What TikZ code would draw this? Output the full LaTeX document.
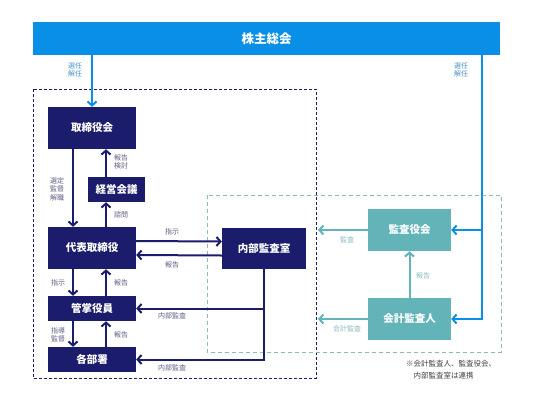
\documentclass[tikz,border=0pt]{standalone}
\usepackage{fontspec}
\setmainfont{Noto Sans CJK JP}
\usetikzlibrary{calc}
\usetikzlibrary{positioning}
\usetikzlibrary{arrows.meta}

\definecolor{navy}{HTML}{1C1C6C}
\definecolor{tealbox}{HTML}{62B4B8}
\definecolor{barblue}{HTML}{0A8FE6}
\definecolor{tealline}{HTML}{8FB8B8}
\definecolor{navylbl}{HTML}{5E5E84}
\definecolor{teallbl}{HTML}{86BBBD}
\definecolor{bluelbl}{HTML}{4A90C8}

\begin{document}
\begin{tikzpicture}[x=1pt, y=-1pt,
    navybox/.style={fill=navy, text=white, font=\fontsize{10.5}{12}\selectfont\bfseries, inner sep=0pt},
    tealnode/.style={fill=tealbox, text=white, font=\fontsize{10.5}{12}\selectfont\bfseries, inner sep=0pt},
    lbl/.style={text=navylbl, font=\fontsize{7}{8.5}\selectfont, align=center, inner sep=0pt},
    tlbl/.style={text=teallbl, font=\fontsize{7}{8.5}\selectfont, align=center, inner sep=0pt},
    blbl/.style={text=bluelbl, font=\fontsize{7}{8.5}\selectfont, align=center, inner sep=0pt},
    arr/.style={-{Straight Barb[length=4pt,width=9pt]}, line width=2pt, navy},
    tarr/.style={-{Straight Barb[length=4pt,width=9pt]}, line width=2pt, tealbox},
    barr/.style={-{Straight Barb[length=4pt,width=9pt]}, line width=2pt, barblue}]
            \useasboundingbox (0,0) rectangle (533,400);

            % Frames
            \draw[dashed, line width=0.9pt, navy, dash pattern=on 3pt off 2pt] (33,89) rectangle (316,378);
            \draw[dashed, line width=0.9pt, tealline, dash pattern=on 4pt off 3pt] (207,195) rectangle (501,352);

            % Shareholders
            \node[fill=barblue, text=white, font=\fontsize{12.5}{14}\selectfont\bfseries, minimum width=467pt, minimum height=33pt, inner sep=0pt] (bar) at (266.5,38.5) {株主総会};

            % Company side
            \node[navybox, minimum width=88pt, minimum height=42pt] (board) at (92,128) {取締役会};
            \node[navybox, minimum width=57pt, minimum height=25pt] (council) at (116.5,189.5) {経営会議};
            \node[navybox, minimum width=88pt, minimum height=42pt] (ceo) at (92,248) {代表取締役};
            \node[navybox, minimum width=88pt, minimum height=25pt] (officer) at (92,308.5) {管掌役員};
            \node[navybox, minimum width=88pt, minimum height=25pt] (depts) at (92,359.5) {各部署};
            \node[navybox, minimum width=84pt, minimum height=41pt] (audit) at (264,248.5) {内部監査室};

            % Auditors
            \node[tealnode, minimum width=83pt, minimum height=42pt] (kansa) at (409.5,230) {監査役会};
            \node[tealnode, minimum width=83pt, minimum height=42pt] (kaikei) at (409.5,319) {会計監査人};

            % Free ends
            \coordinate (rtop) at (482,55);
            \coordinate (kansaend) at (318,230);
            \coordinate (kaikeiend) at (318,319);

            % Election
            \draw[barr] (bar.south -| board.north) -- (board.north);
            \draw[barr] (rtop) |- (kaikei.east);
            \draw[barr] (rtop |- kansa.east) -- (kansa.east);
            \node[blbl] (elect1) at (75,70) {選任\\解任};
            \node[blbl] (elect2) at (461,70) {選任\\解任};

            % Board and CEO
            \draw[arr] ([xshift=-19pt]board.south) -- ([xshift=-19pt]ceo.north);
            \draw[arr] ([xshift=-10.5pt]council.north) -- ([xshift=14pt]board.south);
            \draw[arr] ([xshift=14pt]ceo.north) -- ([xshift=-10.5pt]council.south);
            \node[lbl] (l1) at (57,189) {選定\\監督\\解職};
            \node[lbl] (l2) at (121,162) {報告\\検討};
            \node[lbl] (l3) at (121,215) {諮問};

            % CEO and internal audit
            \draw[arr] ([yshift=7pt]ceo.east) -- ([yshift=7pt]audit.west);
            \draw[arr] ([yshift=-7pt]audit.west) -- ([yshift=-7pt]ceo.east);
            \node[lbl] (l4) at (172,232) {指示};
            \node[lbl] (l5) at (172,265) {報告};

            % Line downwards
            \draw[arr] ([xshift=-19pt]ceo.south) -- ([xshift=-19pt]officer.north);
            \draw[arr] ([xshift=14pt]officer.north) -- ([xshift=14pt]ceo.south);
            \draw[arr] ([xshift=-19pt]officer.south) -- ([xshift=-19pt]depts.north);
            \draw[arr] ([xshift=14pt]depts.north) -- ([xshift=14pt]officer.south);
            \node[lbl] (l6) at (58,283) {指示};
            \node[lbl] (l7) at (121,283) {報告};
            \node[lbl] (l8) at (58,335) {指導\\監督};
            \node[lbl] (l9) at (121,335) {報告};

            % Internal audit
            \draw[arr] (audit.south) |- (officer.east);
            \draw[arr] (audit.south) |- (depts.east);
            \node[lbl] (l10) at (172,316) {内部監査};
            \node[lbl] (l11) at (172,368) {内部監査};

            % Auditor arrows
            \draw[tarr] (kansa.west) -- (kansaend);
            \draw[tarr] (kaikei.west) -- (kaikeiend);
            \draw[tarr] (kaikei.north) -- (kansa.south);
            \node[tlbl] (l12) at (347,240) {監査};
            \node[tlbl] (l13) at (347,329) {会計監査};
            \node[tlbl] (l14) at (423,276) {報告};

            % Note
            \node[anchor=north west, text=black!75, font=\fontsize{7.5}{11.5}\selectfont, align=left, inner sep=0pt] (note) at (406,360) {※会計監査人、監査役会、\\\hspace{7.5pt}内部監査室は連携};
        \end{tikzpicture}
\end{document}
